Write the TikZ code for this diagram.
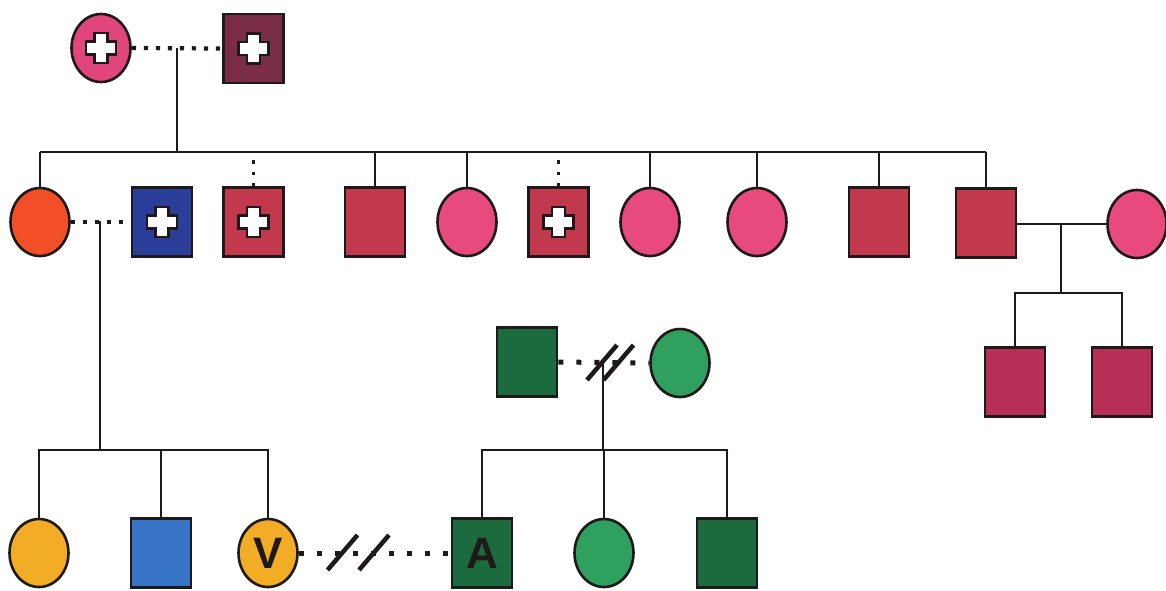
\documentclass[tikz,border=0pt]{standalone}
\usepackage{fontspec}
\newfontfamily\lsans{Liberation Sans}
\usetikzlibrary{shapes.geometric,calc}
\definecolor{lc}{HTML}{1E1A1A}
\definecolor{pinkA}{HTML}{E0457C}
\definecolor{maroon}{HTML}{7B2D48}
\definecolor{orangeR}{HTML}{F24E28}
\definecolor{navy}{HTML}{2B3E99}
\definecolor{redS}{HTML}{C2384C}
\definecolor{pinkB}{HTML}{E84A7D}
\definecolor{mag}{HTML}{B72F56}
\definecolor{dgreen}{HTML}{1C6B3E}
\definecolor{lgreen}{HTML}{2FA060}
\definecolor{yel}{HTML}{F2AC25}
\definecolor{blueB}{HTML}{3874C6}
\begin{document}
\begin{tikzpicture}[x=1pt,y=-1pt,
  ln/.style={draw=lc, line width=2.6pt},
  male/.style={rectangle, draw=lc, line width=2.6pt, minimum width=60pt, minimum height=69pt, inner sep=0pt},
  female/.style={ellipse, draw=lc, line width=2.6pt, minimum width=59pt, minimum height=68pt, inner sep=0pt},
  dotsm/.style={draw=lc, line width=4.2pt, dash pattern=on 4.2pt off 7.8pt},
  dotbig/.style={draw=lc, line width=5pt, dash pattern=on 5pt off 13pt},
  vdots/.style={draw=lc, line width=3.5pt, dash pattern=on 3.5pt off 8pt},
  slash/.style={draw=lc, line width=4.5pt},
  letter/.style={font=\lsans\bfseries\fontsize{44}{44}\selectfont, text=lc},
  pics/crossmk/.style={code={\filldraw[fill=white, draw=lc, line width=2.6pt]
    (-6.5,-15)--(6.5,-15)--(6.5,-6.5)--(15,-6.5)--(15,6.5)--(6.5,6.5)--(6.5,15)--(-6.5,15)--(-6.5,6.5)--(-15,6.5)--(-15,-6.5)--(-6.5,-6.5)--cycle;}}
]
\useasboundingbox (0,0) rectangle (1166,590);
\fill[white] (0,0) rectangle (1166,590);

% generation I
\node[female, fill=pinkA] (f0) at (101,48) {};
\node[male, fill=maroon] (m0) at (253.5,48.5) {};
\pic at (f0.center) {crossmk};
\pic at (m0.center) {crossmk};
\draw[dotsm] (f0.east) -- (m0.west);
\coordinate (j0) at (177,48);
\coordinate (s1) at (177,152);

% generation II
\node[female, fill=orangeR] (r1) at (40,222) {};
\node[male, fill=navy] (r2) at (162,222) {};
\node[male, fill=redS] (r3) at (253.5,222) {};
\node[male, fill=redS] (r4) at (375,222) {};
\node[female, fill=pinkB] (r5) at (467,222) {};
\node[male, fill=redS] (r6) at (558.5,222) {};
\node[female, fill=pinkB] (r7) at (650,222) {};
\node[female, fill=pinkB] (r8) at (757,222) {};
\node[male, fill=redS] (r9) at (879,222) {};
\node[male, fill=redS] (r10) at (986,223) {};
\node[female, fill=pinkB] (r11) at (1137,224) {};
\pic at (r2.center) {crossmk};
\pic at (r3.center) {crossmk};
\pic at (r6.center) {crossmk};

\draw[ln] (j0) -- (s1);
\draw[ln] (r1.north |- s1) -- (r10.north |- s1);
\foreach \n in {r1,r4,r5,r7,r8,r9,r10} \draw[ln] (\n.north) -- (\n.north |- s1);
\coordinate (d3) at ($(r3.north)+(0,-26)$);
\coordinate (d6) at ($(r6.north)+(0,-26)$);
\draw[vdots] (d3) -- (r3.north);
\draw[vdots] (d6) -- (r6.north);

% couple r1 - r2
\draw[dotsm] (r1.east) -- (r2.west);
\coordinate (j1) at (100,221);
\coordinate (s3) at (100,450);
\draw[ln] (j1) -- (s3);

% couple r10 - r11
\draw[ln] (r10.east |- r11.west) -- (r11.west);
\coordinate (j2) at (1061,224);
\coordinate (s2) at (1061,293);
\draw[ln] (j2) -- (s2);
\node[male, fill=mag] (c1) at (1015,382) {};
\node[male, fill=mag] (c2) at (1122,382) {};
\draw[ln] (c1.north) -- (c1.north |- s2) -- (c2.north |- s2) -- (c2.north);

% green couple
\node[male, fill=dgreen] (g1) at (527,362) {};
\node[female, fill=lgreen] (g2) at (680,363) {};
\draw[dotbig] (g1.east) -- (g2.west);
\coordinate (k1) at (602,362.5);
\coordinate (k2) at (618.5,362.5);
\draw[slash] ($(k1)+(-15,17.5)$) -- ($(k1)+(15,-17.5)$);
\draw[slash] ($(k2)+(-15,17.5)$) -- ($(k2)+(15,-17.5)$);
\coordinate (j3) at (603,362);
\coordinate (s4) at (603,450);
\draw[ln] (j3) -- (s4);

% generation III
\node[female, fill=yel] (b1) at (39,553) {};
\node[male, fill=blueB] (b2) at (161,553) {};
\node[female, fill=yel] (b3) at (268,553) {};
\node[male, fill=dgreen] (b4) at (482,553) {};
\node[female, fill=lgreen] (b5) at (604,553) {};
\node[male, fill=dgreen] (b6) at (727,553) {};
\node[letter] at (b3.center) {V};
\node[letter] at (b4.center) {A};

\draw[ln] (b1.north) -- (b1.north |- s3) -- (b3.north |- s3) -- (b3.north);
\draw[ln] (b2.north) -- (b2.north |- s3);
\draw[ln] (b4.north) -- (b4.north |- s4) -- (b6.north |- s4) -- (b6.north);
\draw[ln] (b5.north) -- (b5.north |- s4);

% V - A
\draw[dotbig] (b3.east) -- (b4.west);
\coordinate (k3) at (342.5,552.5);
\coordinate (k4) at (374,552.5);
\draw[slash] ($(k3)+(-15,17.5)$) -- ($(k3)+(15,-17.5)$);
\draw[slash] ($(k4)+(-15,17.5)$) -- ($(k4)+(15,-17.5)$);
\end{tikzpicture}
\end{document}
